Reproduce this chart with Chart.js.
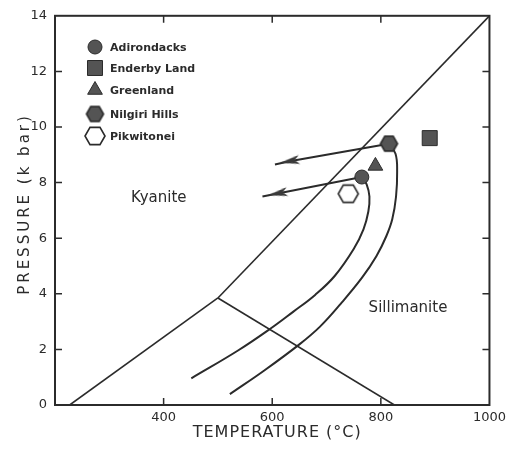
<!DOCTYPE html>
<html>
<head>
<meta charset="utf-8">
<script src="https://cdn.jsdelivr.net/npm/chart.js@4.4.0/dist/chart.umd.min.js"></script>
<style>
  html, body { margin: 0; padding: 0; background: #fff; }
  #wrap { width: 511px; height: 455px; }
</style>
</head>
<body>
<div id="wrap"><canvas id="pt" width="511" height="455"></canvas></div>
<script>
// reaction boundaries (T in °C, P in kbar)
const kySillT = [500, 1000];
const kySillP = [3.85, 14];
const andKyT = [227, 500];
const andKyP = [0, 3.85];
const andSillT = [500, 825];
const andSillP = [3.85, 0];

// localities
const sampleNames = ['Adirondacks', 'Enderby Land', 'Greenland', 'Nilgiri Hills', 'Pikwitonei'];
const sampleT = [765, 890, 790, 815, 740];
const sampleP = [8.2, 9.6, 8.6, 9.4, 7.6];

// P-T paths
const innerPathT = [765, 774, 779, 777, 768, 750, 715, 679, 639, 597, 537, 451];
const innerPathP = [8.21, 7.93, 7.5, 6.96, 6.32, 5.61, 4.64, 3.96, 3.36, 2.75, 1.96, 0.96];
const outerPathT = [814, 827, 830, 828, 821, 810, 792, 765, 726, 688, 650, 586, 522];
const outerPathP = [9.39, 9.04, 8.39, 7.5, 6.68, 6.07, 5.36, 4.57, 3.64, 2.82, 2.18, 1.25, 0.39];

// arrows: start, head, end
const arrowNilgiriT = [815, 632, 605];
const arrowNilgiriP = [9.4, 8.77, 8.65];
const arrowAdirondacksT = [765, 610, 582];
const arrowAdirondacksP = [8.2, 7.61, 7.5];

const xTicks = [200, 400, 600, 800, 1000];
const xTickLabels = ['', '400', '600', '800', '1000'];
const yTicks = [0, 2, 4, 6, 8, 10, 12, 14];

const ink = '#2b2b2b';
const markFill = '#545454';

function pts(t, p) {
    return t.map((v, i) => ({ x: v, y: p[i] }));
}

function hexagon(r, fill) {
    const c = document.createElement('canvas');
    const s = Math.ceil(2 * r + 4);
    c.width = s;
    c.height = s;
    const g = c.getContext('2d');
    g.beginPath();
    for (let i = 0; i < 6; i++) {
        const a = i * Math.PI / 3;
        const x = s / 2 + r * Math.cos(a);
        const y = s / 2 + r * Math.sin(a);
        if (i) g.lineTo(x, y); else g.moveTo(x, y);
    }
    g.closePath();
    if (fill) {
        g.fillStyle = fill;
        g.fill();
    }
    g.lineWidth = 1.6;
    g.strokeStyle = ink;
    g.stroke();
    return c;
}

function arrowHead() {
    const c = document.createElement('canvas');
    c.width = 10;
    c.height = 20;
    const g = c.getContext('2d');
    g.beginPath();
    g.moveTo(5, 0);
    g.lineTo(9.5, 20);
    g.lineTo(5, 15);
    g.lineTo(0.5, 20);
    g.closePath();
    g.fillStyle = '#3a3a3a';
    g.fill();
    return c;
}

const head = arrowHead();

// one marker style per locality, same order as sampleNames
const markerStyle = [
    { pointStyle: 'circle', radius: 7 },
    { pointStyle: 'rect', radius: 10.6 },
    { pointStyle: 'triangle', radius: 8.5 },
    { pointStyle: hexagon(8.5, markFill), radius: 8 },
    { pointStyle: hexagon(10, null), radius: 8 }
];

const sampleSets = sampleNames.map((name, i) => ({
    label: name,
    data: [{ x: sampleT[i], y: sampleP[i] }],
    pointStyle: markerStyle[i].pointStyle,
    pointRadius: markerStyle[i].radius,
    backgroundColor: markFill,
    borderColor: ink,
    borderWidth: 1,
    order: 0
}));

function lineSet(label, t, p, width) {
    return {
        label: label,
        data: pts(t, p),
        showLine: true,
        borderColor: ink,
        borderWidth: width,
        pointRadius: 0,
        tension: 0,
        order: 5
    };
}

const innerPath = lineSet('path 1', innerPathT, innerPathP, 2);
innerPath.tension = 0.4;
const outerPath = lineSet('path 2', outerPathT, outerPathP, 2);
outerPath.tension = 0.4;

function arrowSet(label, t, p, rot) {
    const s = lineSet(label, t, p, 2);
    s.pointRadius = [0, 6, 0];
    s.pointStyle = head;
    s.rotation = rot;
    s.order = 2;
    return s;
}

const fieldLabels = [
    { text: 'Kyanite', x: 391, y: 7.43 },
    { text: 'Sillimanite', x: 850, y: 3.5 }
];

const framePlugin = {
    id: 'frame',
    afterDraw(chart) {
        const ctx = chart.ctx;
        const a = chart.chartArea;
        const xs = chart.scales.x;
        const ys = chart.scales.y;
        ctx.save();
        ctx.strokeStyle = ink;
        ctx.lineWidth = 2;
        ctx.strokeRect(a.left, a.top, a.right - a.left, a.bottom - a.top);

        // inward ticks on all four sides
        ctx.lineWidth = 1.5;
        ctx.beginPath();
        xTicks.slice(1, -1).forEach(v => {
            const px = xs.getPixelForValue(v);
            ctx.moveTo(px, a.bottom); ctx.lineTo(px, a.bottom - 7);
            ctx.moveTo(px, a.top); ctx.lineTo(px, a.top + 7);
        });
        yTicks.slice(1, -1).forEach(v => {
            const py = ys.getPixelForValue(v);
            ctx.moveTo(a.left, py); ctx.lineTo(a.left + 7, py);
            ctx.moveTo(a.right, py); ctx.lineTo(a.right - 7, py);
        });
        ctx.stroke();

        ctx.fillStyle = ink;
        ctx.textAlign = 'center';
        ctx.textBaseline = 'middle';

        // field names
        ctx.font = '15px "DejaVu Sans"';
        fieldLabels.forEach(l => {
            ctx.fillText(l.text, xs.getPixelForValue(l.x), ys.getPixelForValue(l.y));
        });

        // axis titles
        ctx.font = '16px "DejaVu Sans"';
        ctx.letterSpacing = '1px';
        ctx.fillText('TEMPERATURE (°C)', (a.left + a.right) / 2 + 5, 433);
        ctx.save();
        ctx.translate(25, 204);
        ctx.rotate(-Math.PI / 2);
        ctx.font = '15px "DejaVu Sans"';
        ctx.letterSpacing = '3px';
        ctx.fillText('PRESSURE (k bar)', 0, 0);
        ctx.restore();
        ctx.letterSpacing = '0px';

        // legend
        ctx.textAlign = 'left';
        ctx.font = 'bold 11px "DejaVu Sans"';
        const rows = [47, 68, 90, 114, 136];
        sampleNames.forEach((name, i) => {
            const st = markerStyle[i];
            ctx.fillStyle = markFill;
            ctx.strokeStyle = ink;
            ctx.lineWidth = 1;
            Chart.helpers.drawPoint(ctx, {
                pointStyle: st.pointStyle,
                radius: st.radius,
                rotation: 0,
                borderWidth: 1
            }, 95, rows[i]);
            ctx.fillStyle = ink;
            ctx.fillText(name, 110, rows[i] + 1);
        });
        ctx.restore();
    }
};

const tickFont = { family: '"DejaVu Sans"', size: 13 };

new Chart(document.getElementById('pt'), {
    type: 'scatter',
    data: {
        datasets: sampleSets.concat([
            arrowSet('Nilgiri arrow', arrowNilgiriT, arrowNilgiriP, -100),
            arrowSet('Adirondacks arrow', arrowAdirondacksT, arrowAdirondacksP, -101),
            innerPath,
            outerPath,
            lineSet('ky-sill', kySillT, kySillP, 1.6),
            lineSet('and-ky', andKyT, andKyP, 1.6),
            lineSet('and-sill', andSillT, andSillP, 1.6)
        ])
    },
    options: {
        responsive: false,
        animation: false,
        layout: { padding: { top: 13, right: 18, left: 0, bottom: 0 } },
        plugins: {
            legend: { display: false },
            tooltip: { enabled: false }
        },
        scales: {
            x: {
                type: 'linear',
                min: 200,
                max: 1000,
                afterBuildTicks: s => { s.ticks = xTicks.map(v => ({ value: v })); },
                afterFit: s => { s.height = 50; },
                grid: { display: false, drawTicks: false },
                border: { display: false },
                ticks: {
                    padding: 5,
                    autoSkip: false,
                    maxRotation: 0,
                    color: ink,
                    font: tickFont,
                    callback: (v, i) => xTickLabels[i]
                }
            },
            y: {
                type: 'linear',
                min: 0,
                max: 14,
                afterBuildTicks: s => { s.ticks = yTicks.map(v => ({ value: v })); },
                afterFit: s => { s.width = 55; },
                grid: { display: false, drawTicks: false },
                border: { display: false },
                ticks: {
                    padding: 8,
                    autoSkip: false,
                    color: ink,
                    font: tickFont
                }
            }
        }
    },
    plugins: [framePlugin]
});
</script>
</body>
</html>
